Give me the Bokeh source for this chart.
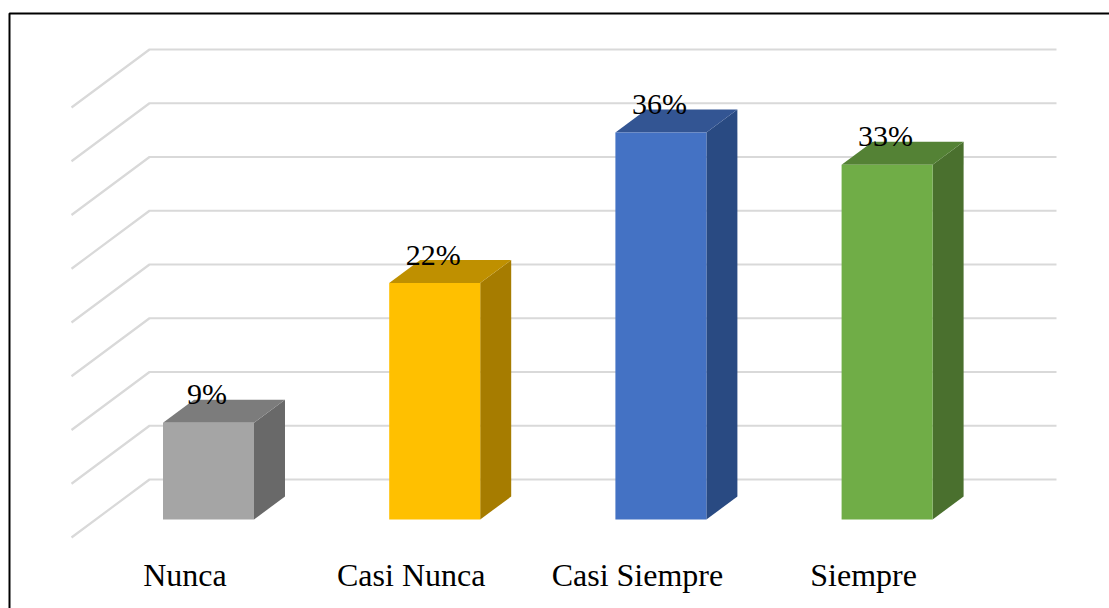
from bokeh.core.properties import value
from bokeh.embed import file_html
from bokeh.models import Range1d
from bokeh.plotting import figure
from bokeh.resources import INLINE

# Survey answers, in percent
categories = ["Nunca", "Casi Nunca", "Casi Siempre", "Siempre"]
percentages = [9, 22, 36, 33]
value_labels = ["9%", "22%", "36%", "33%"]
grid_ticks = [0, 5, 10, 15, 20, 25, 30, 35, 40]

# Faces of each 3-D column: front, top, side
front_colors = ["#A5A5A5", "#FFC000", "#4472C4", "#70AD47"]
top_colors = ["#7C7C7C", "#BF9000", "#335593", "#548235"]
side_colors = ["#696969", "#A67C00", "#294A82", "#4A702E"]

WIDTH, HEIGHT = 1109, 608
PX_PER_PCT = 10.75      # vertical scale of the value axis
PX_PER_CAT = 226.2      # spacing of the categories
FIRST_CAT_PX = 208      # centre of the first column
BASE_PX = 519           # screen row of zero on the column fronts

# Ranges chosen so that x is a category index and y is a percentage
x_range = Range1d(-FIRST_CAT_PX / PX_PER_CAT, (WIDTH - FIRST_CAT_PX) / PX_PER_CAT)
y_range = Range1d((BASE_PX - HEIGHT) / PX_PER_PCT, BASE_PX / PX_PER_PCT)

def dx(px):
    return px / PX_PER_CAT

def dy(px):
    return px / PX_PER_PCT

p = figure(width=WIDTH, height=HEIGHT, x_range=x_range, y_range=y_range,
           output_backend="svg", toolbar_location=None, min_border=0)
p.axis.visible = False
p.grid.visible = False
p.outline_line_color = None
p.background_fill_color = "white"

# Frame around the chart: top and left edges run off the page
frame_x = [dx(9 - FIRST_CAT_PX), dx(9 - FIRST_CAT_PX), dx(WIDTH - FIRST_CAT_PX)]
frame_y = [dy(BASE_PX - HEIGHT), dy(BASE_PX - 13), dy(BASE_PX - 13)]
p.line(frame_x, frame_y, line_color="black", line_width=2)

# Gridlines: floor-side stub plus the run along the back wall
wall_left = dx(149 - FIRST_CAT_PX)
wall_right = dx(1056 - FIRST_CAT_PX)
stub_left = dx(71 - FIRST_CAT_PX)
wall_rise = dy(40)
stub_drop = dy(18)
grid_xs = [[stub_left, wall_left, wall_right] for _ in grid_ticks]
grid_ys = [[t - stub_drop, t + wall_rise, t + wall_rise] for t in grid_ticks]
p.multi_line(grid_xs, grid_ys, line_color="#D9D9D9", line_width=2.2)

# Columns built from three faces
half = dx(45.5)
depth_x = dx(31)
depth_y = dy(23)
for i, v in enumerate(percentages):
    left, right = i - half, i + half
    p.patch([right, right + depth_x, right + depth_x, right],
            [0, depth_y, v + depth_y, v], fill_color=side_colors[i], line_color=None)
    p.patch([left, right, right + depth_x, left + depth_x],
            [v, v, v + depth_y, v + depth_y], fill_color=top_colors[i], line_color=None)
    p.quad(left=left, right=right, bottom=0, top=v, fill_color=front_colors[i], line_color=None)

# Value labels sit over the top face of each column
p.text([i - dx(1.5) for i in range(len(categories))],
       [v + dy(29) for v in percentages],
       text=value_labels, text_font=value("Liberation Serif"),
       text_font_size=value("30px"), text_color="black",
       text_align="center", text_baseline="alphabetic")

# Category names along the bottom
p.text([i - dx(23.5) for i in range(len(categories))],
       [dy(BASE_PX - 574)] * len(categories),
       text=categories, text_font=value("Liberation Serif"),
       text_font_size=value("32px"), text_color="black",
       text_align="center", text_baseline="alphabetic")

open("out.html", "w").write(file_html(p, INLINE))
